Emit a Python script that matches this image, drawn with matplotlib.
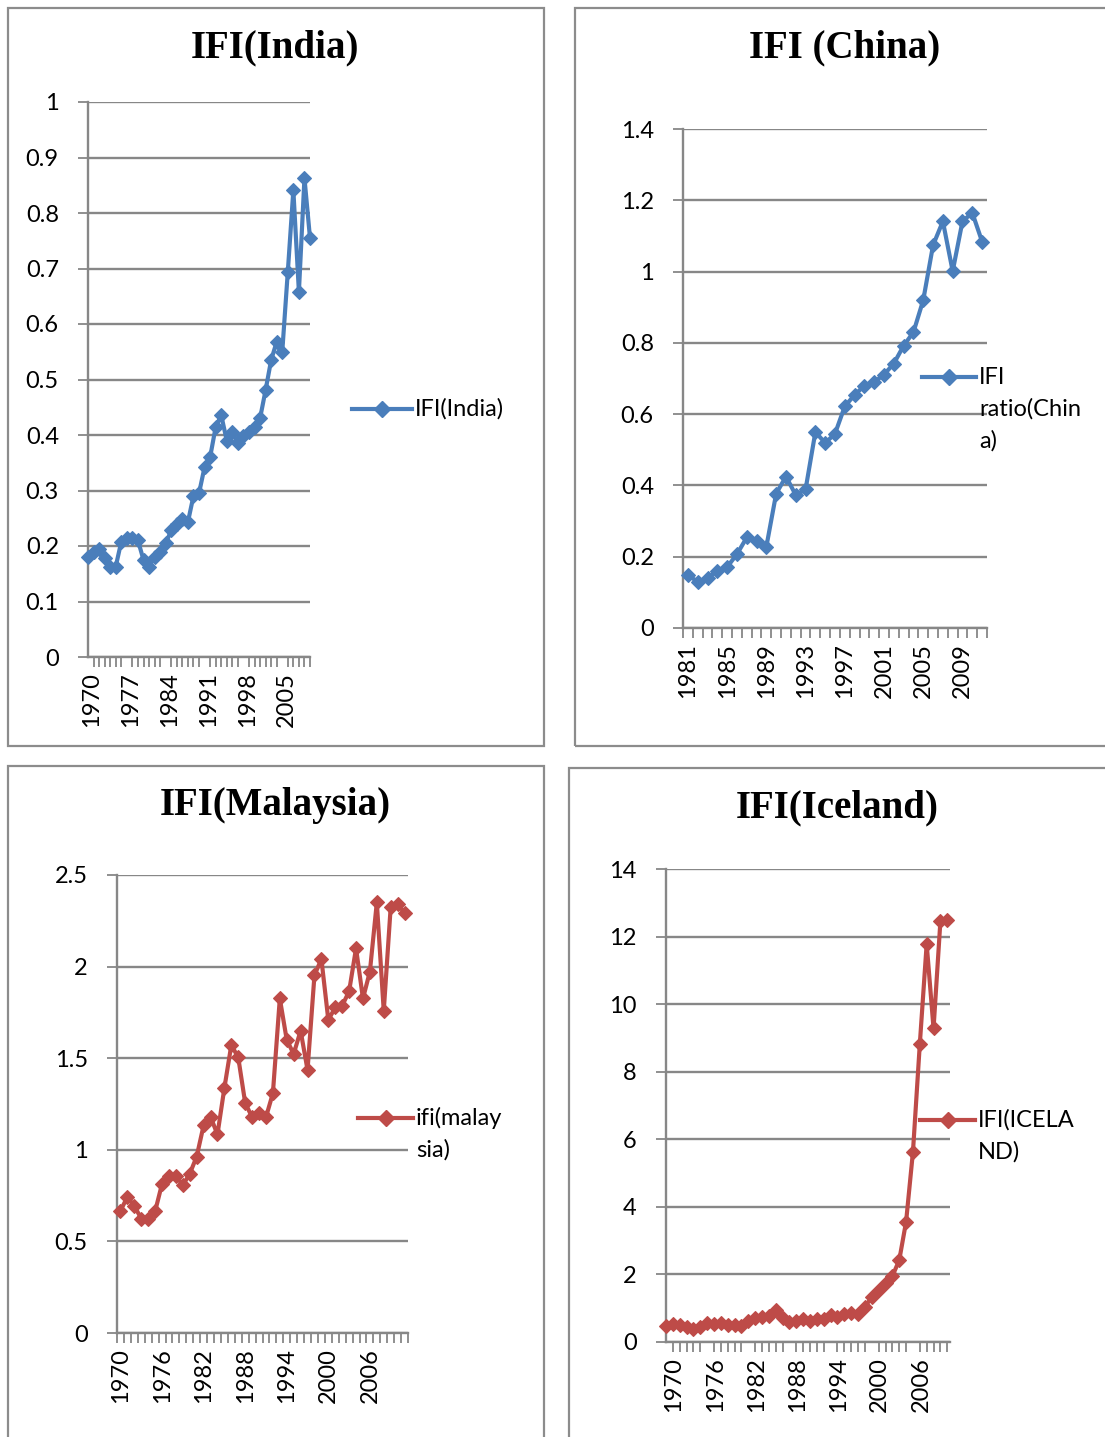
import matplotlib
matplotlib.use("Agg")

import matplotlib.pyplot as plt
from matplotlib.lines import Line2D
from matplotlib.patches import Rectangle
from matplotlib.transforms import ScaledTranslation

W, H = 1105, 1437

# --- data ---
india_years = list(range(1970, 2011))
india_ifi = [0.18, 0.19, 0.195, 0.178, 0.163, 0.163, 0.208, 0.215, 0.215, 0.21,
             0.175, 0.163, 0.18, 0.19, 0.205, 0.228, 0.24, 0.248, 0.243, 0.29,
             0.295, 0.342, 0.36, 0.414, 0.436, 0.39, 0.405, 0.385, 0.398, 0.405,
             0.415, 0.43, 0.481, 0.535, 0.568, 0.55, 0.694, 0.841, 0.658, 0.863, 0.755]

china_years = list(range(1981, 2012))
china_ifi = [0.148, 0.13, 0.14, 0.161, 0.171, 0.207, 0.254, 0.244, 0.228, 0.377,
             0.425, 0.373, 0.389, 0.55, 0.519, 0.545, 0.622, 0.654, 0.68, 0.69,
             0.711, 0.742, 0.792, 0.83, 0.92, 1.074, 1.141, 1.001, 1.141, 1.165, 1.084]

malaysia_years = list(range(1970, 2012))
malaysia_ifi = [0.668, 0.742, 0.693, 0.625, 0.625, 0.664, 0.814, 0.859, 0.859, 0.807,
                0.869, 0.963, 1.133, 1.18, 1.084, 1.338, 1.572, 1.504, 1.256, 1.178,
                1.20, 1.178, 1.309, 1.826, 1.60, 1.523, 1.65, 1.436, 1.953, 2.041,
                1.709, 1.777, 1.787, 1.865, 2.10, 1.826, 1.973, 2.35, 1.758, 2.324,
                2.34, 2.295]

iceland_years = list(range(1970, 2012))
iceland_ifi = [0.47, 0.52, 0.5, 0.45, 0.38, 0.45, 0.57, 0.52, 0.55, 0.5,
               0.5, 0.48, 0.62, 0.72, 0.75, 0.78, 0.95, 0.72, 0.6, 0.63,
               0.68, 0.63, 0.68, 0.68, 0.79, 0.74, 0.82, 0.86, 0.82, 1.05,
               1.32, 1.53, 1.74, 1.95, 2.42, 3.56, 5.63, 8.82, 11.78, 9.28,
               12.45, 12.48]

BLUE = "#4A7EBB"
RED = "#BE4B48"
GRID = "#878787"
TICK_FONT = "Lato"
TITLE_FONT = "Liberation Serif"
TICK_SIZE = 17
TITLE_SIZE = 28


def px_axes(fig, left, top, right, bottom):
    return fig.add_axes([left / W, 1 - bottom / H, (right - left) / W, (bottom - top) / H])


def panel_border(fig, left, top, right, bottom):
    fig.add_artist(Rectangle((left / W, 1 - bottom / H), (right - left) / W, (bottom - top) / H,
                             transform=fig.transFigure, fill=False, edgecolor="#8c8c8c",
                             linewidth=1.6))


def style_axes(ax, years, values, color, yticks, ymax, step, on_tick, xshift=0):
    n = len(years)
    x = list(range(n))
    ax.plot(x, values, color=color, linewidth=3.0, marker="D", markersize=7.0,
            markeredgewidth=0.8, markeredgecolor=color, clip_on=False, zorder=3)
    if on_tick:
        ax.set_xlim(0, n - 1)
        marks = list(range(n))
    else:
        ax.set_xlim(-0.5, n - 0.5)
        marks = [i - 0.5 for i in range(n + 1)]
    ax.set_ylim(0, ymax)

    ax.set_xticks(marks, minor=True)
    lab_pos = list(range(0, n, step))
    ax.set_xticks(lab_pos)
    ax.set_xticklabels([str(years[i]) for i in lab_pos], rotation=90,
                       fontfamily=TICK_FONT, fontsize=TICK_SIZE)
    ax.tick_params(axis="x", which="major", length=0, pad=11)
    ax.tick_params(axis="x", which="minor", length=7, width=1.3, color=GRID, direction="out")
    if xshift:
        off = ScaledTranslation(xshift / 100, 0, ax.figure.dpi_scale_trans)
        for lab in ax.get_xticklabels():
            lab.set_transform(lab.get_transform() + off)

    ax.set_yticks(yticks)
    ax.set_yticklabels([f"{v:g}" for v in yticks], fontfamily=TICK_FONT, fontsize=TICK_SIZE)
    ax.tick_params(axis="y", length=7, width=1.3, color=GRID, pad=14)

    ax.grid(axis="y", color=GRID, linewidth=1.7)
    ax.set_axisbelow(True)
    for side in ("top", "right"):
        ax.spines[side].set_visible(False)
    for side in ("left", "bottom"):
        ax.spines[side].set_color(GRID)
        ax.spines[side].set_linewidth(1.7)


def legend_key(fig, x0, x1, y, color, lines, dy=32):
    yf = 1 - y / H
    fig.add_artist(Line2D([x0 / W, x1 / W], [yf, yf], transform=fig.transFigure,
                          color=color, linewidth=3.0))
    fig.add_artist(Line2D([(x0 + x1) / 2 / W], [yf], transform=fig.transFigure,
                          color=color, marker="D", markersize=8, linestyle="none"))
    for k, txt in enumerate(lines):
        fig.text((x1 + 3) / W, 1 - (y + k * dy) / H, txt, fontfamily=TICK_FONT,
                 fontsize=TICK_SIZE, ha="left", va="center")


def title(fig, x, y, txt):
    fig.text(x / W, 1 - y / H, txt, fontfamily=TITLE_FONT, fontweight="bold",
             fontsize=TITLE_SIZE, ha="center", va="center")


def main() -> None:
    fig = plt.figure(figsize=(W / 100, H / 100), dpi=100)
    fig.patch.set_facecolor("white")

    panel_border(fig, 8, 8, 544, 746)
    panel_border(fig, 575, 8, 1112, 746)
    panel_border(fig, 8, 766, 544, 1445)
    panel_border(fig, 569, 768, 1112, 1445)

    # India
    ax = px_axes(fig, 88, 102, 310, 657)
    style_axes(ax, india_years, india_ifi, BLUE,
               [0, 0.1, 0.2, 0.3, 0.4, 0.5, 0.6, 0.7, 0.8, 0.9, 1], 1.0, 7, True, xshift=4)
    title(fig, 275, 48, "IFI(India)")
    legend_key(fig, 352, 412, 409, BLUE, ["IFI(India)"])

    # China
    ax = px_axes(fig, 683, 129, 987, 628)
    style_axes(ax, china_years, china_ifi, BLUE,
               [0, 0.2, 0.4, 0.6, 0.8, 1, 1.2, 1.4], 1.4, 4, False)
    title(fig, 845, 48, "IFI (China)")
    legend_key(fig, 922, 976, 377, BLUE, ["IFI", "ratio(Chin", "a)"])

    # Malaysia
    ax = px_axes(fig, 117, 875, 408, 1333)
    style_axes(ax, malaysia_years, malaysia_ifi, RED,
               [0, 0.5, 1, 1.5, 2, 2.5], 2.5, 6, False)
    title(fig, 275, 806, "IFI(Malaysia)")
    legend_key(fig, 358, 413, 1118, RED, ["ifi(malay", "sia)"])

    # Iceland
    ax = px_axes(fig, 666, 869, 950, 1342)
    style_axes(ax, iceland_years, iceland_ifi, RED,
               [0, 2, 4, 6, 8, 10, 12, 14], 14, 6, True, xshift=8)
    ax.set_xlim(0, len(iceland_years) - 0.6)
    title(fig, 837, 808, "IFI(Iceland)")
    legend_key(fig, 920, 975, 1120, RED, ["IFI(ICELA", "ND)"])

    fig.savefig("out.png", dpi=100, facecolor="white")
    plt.close(fig)


if __name__ == "__main__":
    main()
